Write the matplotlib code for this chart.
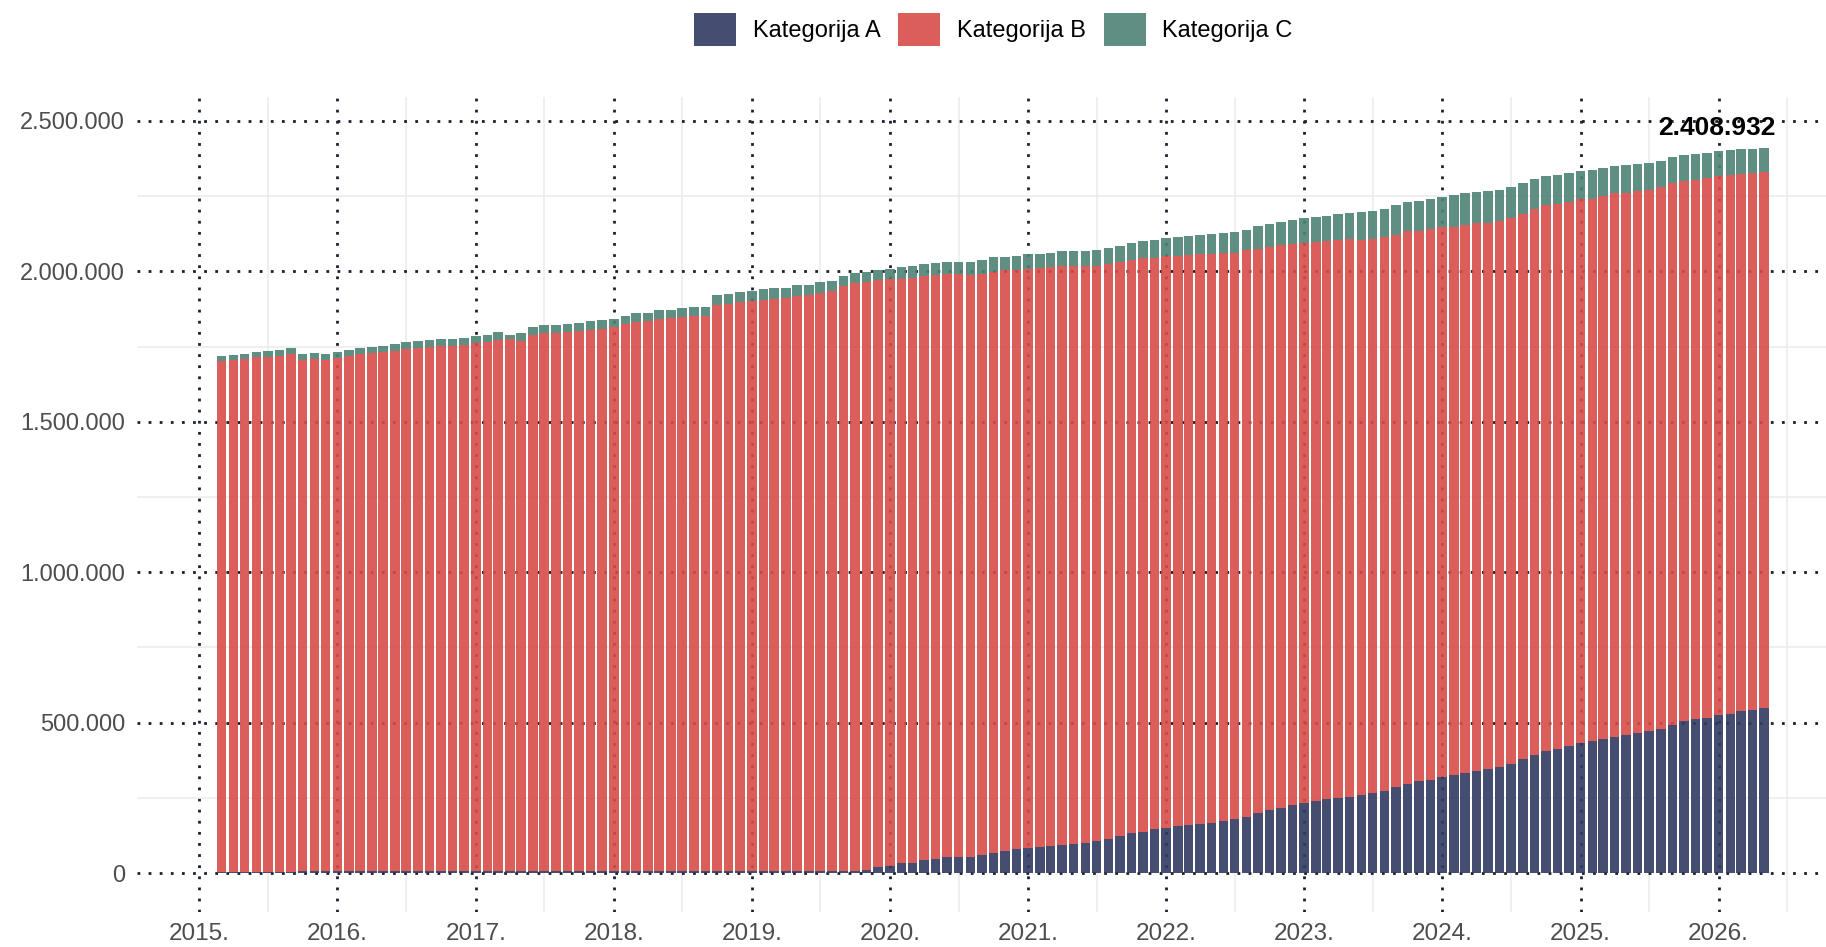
import matplotlib
matplotlib.use("Agg")
import matplotlib.pyplot as plt
import matplotlib.dates as mdates
from matplotlib.patches import Patch
from matplotlib.ticker import FixedLocator, FuncFormatter
import numpy as np
import pandas as pd
import datetime as dt

plt.rcParams['font.family'] = ['Liberation Sans', 'DejaVu Sans']

# ---------------- data ----------------
months = pd.date_range('2015-03-01', periods=135, freq='MS')

kat_a = [
    4800, 4900, 5000, 5000, 5100, 5100, 5000, 5200, 5200, 5300,
    5300, 5400, 5400, 5500, 5500, 5600, 5600, 5700, 5700, 5800,
    6000, 6200, 6800, 7000, 7000, 6500, 6200, 6100, 6000, 6000,
    6000, 5900, 5900, 5900, 5800, 5800, 5800, 5700, 5700, 5700,
    5600, 5600, 5600, 5500, 5500, 5500, 5500, 5500, 5500, 5500,
    5500, 5600, 5700, 5800, 6000, 7700, 11000, 18800, 25000, 32000,
    34000, 43000, 47500, 52000, 52500, 53000, 58600, 67000, 72000, 78500,
    83000, 87000, 90600, 94000, 98000, 100600, 105000, 114000, 122700, 132600,
    138000, 146000, 151000, 156000, 160000, 164700, 168000, 174600, 181000, 186800,
    199000, 211000, 217700, 225000, 233000, 240000, 245000, 250000, 254000, 260000,
    266000, 274000, 285000, 296000, 305000, 310600, 320500, 327000, 333800, 340000,
    346000, 351000, 362500, 378000, 392000, 406700, 414000, 422000, 431000, 437700,
    445000, 453000, 457500, 464000, 471000, 479700, 493000, 505000, 510600, 517000,
    524000, 529000, 538000, 542700, 547000,
]

kat_b = [
    1698200, 1699100, 1705000, 1710000, 1710900, 1711900, 1719000, 1700800, 1703800, 1700700,
    1705700, 1711600, 1718600, 1723500, 1725500, 1729400, 1736400, 1739300, 1742300, 1745200,
    1745000, 1748800, 1755200, 1759000, 1765000, 1768500, 1761800, 1781900, 1789000, 1790000,
    1792000, 1795100, 1798100, 1802100, 1809200, 1818200, 1825200, 1829300, 1835300, 1839300,
    1843400, 1844400, 1845400, 1882500, 1884500, 1891500, 1896500, 1898500, 1903500, 1905500,
    1912500, 1916400, 1921300, 1928200, 1946000, 1952300, 1953000, 1952200, 1948000, 1943000,
    1944000, 1942000, 1940500, 1938000, 1937500, 1935000, 1933400, 1932000, 1932000, 1927500,
    1925000, 1924000, 1922400, 1923000, 1919000, 1916400, 1914000, 1910000, 1907300, 1904400,
    1906000, 1899000, 1899000, 1896000, 1895000, 1892300, 1891000, 1885400, 1881000, 1883200,
    1875000, 1870000, 1869300, 1865000, 1862000, 1857000, 1855000, 1854000, 1854000, 1844000,
    1842000, 1840000, 1837000, 1838000, 1829000, 1830400, 1825500, 1821000, 1819200, 1820000,
    1814000, 1815000, 1813500, 1811000, 1814000, 1812300, 1809000, 1810000, 1808000, 1804300,
    1804000, 1806000, 1803500, 1802000, 1800000, 1799300, 1799000, 1796000, 1794400, 1794000,
    1794000, 1792000, 1787000, 1785300, 1782000,
]

kat_c = [
    14000, 17000, 14000, 16000, 18000, 20000, 20000, 18000, 18000, 18000,
    20000, 20000, 20000, 18000, 20000, 22000, 22000, 22000, 23000, 23000,
    23000, 22000, 22000, 24000, 25000, 15000, 26000, 26000, 25000, 24000,
    26000, 26000, 30000, 29000, 28000, 29000, 29000, 28000, 29000, 28000,
    28000, 33000, 32000, 32000, 33000, 33000, 34000, 36000, 34000, 35000,
    35000, 34000, 36000, 35000, 34000, 36000, 35000, 35000, 36000, 41000,
    41000, 41000, 41000, 42000, 42000, 44000, 44000, 47000, 45000, 46000,
    48000, 48000, 49000, 49000, 52000, 52000, 53000, 52000, 55000, 58000,
    58000, 60000, 62000, 63000, 64000, 65000, 66000, 69000, 70000, 69000,
    75000, 77000, 78000, 82000, 83000, 85000, 85000, 88000, 87000, 94000,
    94000, 94000, 99000, 97000, 101000, 100000, 102000, 107000, 108000, 105000,
    108000, 105000, 105000, 103000, 102000, 99000, 98000, 96000, 95000, 95000,
    95000, 92000, 93000, 91000, 90000, 88000, 89000, 86000, 86000, 83000,
    82000, 83000, 82000, 79000, 79932,
]

labels = ['Kategorija A', 'Kategorija B', 'Kategorija C']
year_ticks = list(range(2015, 2027))
y_ticks = [0, 500000, 1000000, 1500000, 2000000, 2500000]

# ---------------- style ----------------
col_a = '#313A62'
col_b = '#D84C48'
col_c = '#4D8374'
alpha = 0.9

fig = plt.figure(figsize=(18.26, 9.47), dpi=100)
ax = fig.add_axes([0.075, 0.037, 0.925, 0.8606])

x = mdates.date2num(months.to_pydatetime())
a = np.array(kat_a, dtype=float)
b = np.array(kat_b, dtype=float)
c = np.array(kat_c, dtype=float)
width = 25.2

ax.bar(x, a, width, color=col_a, alpha=alpha, linewidth=0, zorder=3)
ax.bar(x, b, width, bottom=a, color=col_b, alpha=alpha, linewidth=0, zorder=3)
ax.bar(x, c, width, bottom=a + b, color=col_c, alpha=alpha, linewidth=0, zorder=3)

total_last = a[-1] + b[-1] + c[-1]
ax.annotate(f"{total_last:,.0f}".replace(',', '.'), xy=(x[-1], total_last),
            xytext=(8, 9.7), textcoords='offset points', ha='right', va='baseline',
            fontsize=19, fontweight='bold', color='black', zorder=5)

# axes limits
ax.set_xlim(mdates.date2num(dt.datetime(2014, 7, 20)), mdates.date2num(dt.datetime(2026, 10, 12)))
ax.set_ylim(-129300, 2579500)

# ticks
ax.xaxis.set_major_locator(FixedLocator([mdates.date2num(dt.datetime(yy, 1, 1)) for yy in year_ticks]))
ax.xaxis.set_minor_locator(FixedLocator([mdates.date2num(dt.datetime(yy, 7, 1)) for yy in range(2014, 2027)]))
ax.xaxis.set_major_formatter(FuncFormatter(lambda v, p: f"{mdates.num2date(v).year}."))
ax.yaxis.set_major_locator(FixedLocator(y_ticks))
ax.yaxis.set_minor_locator(FixedLocator([250000, 750000, 1250000, 1750000, 2250000]))
ax.yaxis.set_major_formatter(FuncFormatter(lambda v, p: f"{v:,.0f}".replace(',', '.')))

ax.tick_params(which='both', length=0)
ax.tick_params(axis='y', labelsize=17, labelcolor='#4d4d4d', pad=8.5)
ax.tick_params(axis='x', labelsize=17.5, labelcolor='#4d4d4d', pad=8)

ax.set_axisbelow(True)
ax.grid(which='minor', color='#ebebeb', linewidth=1.1, linestyle='-')
ax.grid(which='major', color='#1a2030', linewidth=2.0, linestyle=(0, (1, 3.0)))

for s in ax.spines.values():
    s.set_visible(False)

handles = [Patch(facecolor=col, alpha=alpha, linewidth=0) for col in (col_a, col_b, col_c)]
fig.legend(handles, labels, loc='center', bbox_to_anchor=(0.544, 0.969), ncol=3,
           frameon=False, fontsize=17, handlelength=1.78, handleheight=1.8,
           handletextpad=0.7, columnspacing=0.75, borderaxespad=0)

fig.savefig('out.png', dpi=100, facecolor='white')
